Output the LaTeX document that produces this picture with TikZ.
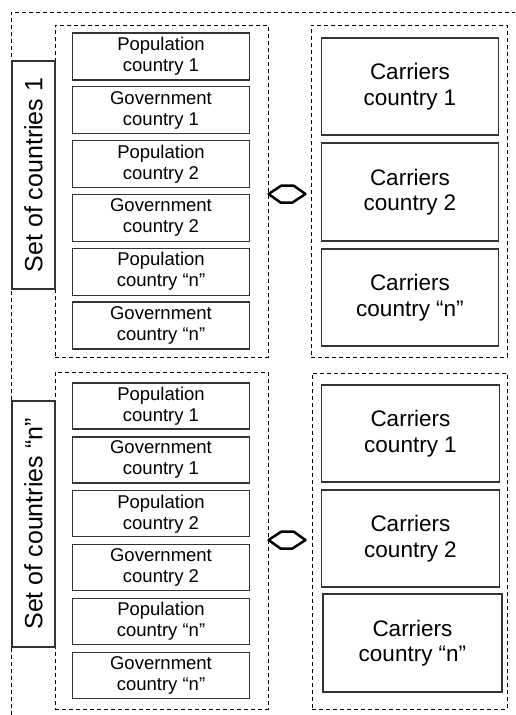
\documentclass[tikz,border=0pt]{standalone}
\usepackage{fontspec}
\setmainfont{Liberation Sans}
\usetikzlibrary{calc}

\tikzset{
  grpbox/.style={draw, dash pattern=on 4pt off 3pt, line width=1pt, inner sep=0pt},
  cntbox/.style={draw=black!80, line width=1.2pt, align=center, inner sep=0pt,
    minimum width=177.5pt, font=\fontsize{18.5}{21}\selectfont},
  carbox/.style={draw=black!80, line width=1.2pt, align=center, inner sep=0pt,
    minimum width=177.5pt, font=\fontsize{22.5}{25.5}\selectfont},
  setbox/.style={draw=black!80, line width=1.2pt, inner sep=0pt, rotate=90,
    minimum height=43pt, font=\fontsize{25}{28}\selectfont},
  lrarrow/.style={draw, line width=2.5pt, line join=round, fill=white},
  outer/.style={dash pattern=on 4pt off 3pt, line width=0.8pt}
}

\begin{document}
\begin{tikzpicture}[x=1pt,y=-1pt]
		%%%%% START %%%%%
		\useasboundingbox (0,0) rectangle (515,715);
		
		\draw[outer] (11,715) -- (11,12) -- (515,12);
		
		% first set
		\node[grpbox, minimum width=213pt, minimum height=332pt] (grpA) at (161.5,191) {};
		\node[grpbox, minimum width=196pt, minimum height=332pt] (carA) at (409,191) {};
		\node[setbox, minimum width=228pt] (setA) at (33.5,175) {Set of countries 1};
		
		\node[cntbox, minimum height=47pt] (popA1) at (161,56.5) {Population\\country 1};
		\node[cntbox, minimum height=47pt] (govA1) at (161,110.3) {Government\\country 1};
		\node[cntbox, minimum height=47pt] (popA2) at (161,164.1) {Population\\country 2};
		\node[cntbox, minimum height=47pt] (govA2) at (161,217.9) {Government\\country 2};
		\node[cntbox, minimum height=47pt] (popAn) at (161,271.7) {Population\\country “n”};
		\node[cntbox, minimum height=47pt] (govAn) at (161,325.5) {Government\\country “n”};
		
		\node[carbox, minimum height=97pt] (carA1) at (410,86.5) {Carriers\\country 1};
		\node[carbox, minimum height=98pt] (carA2) at (410,192) {Carriers\\country 2};
		\node[carbox, minimum height=97pt] (carAn) at (410,297.5) {Carriers\\country “n”};
		
		\draw[lrarrow] ([yshift=-3pt]grpA.east) -- ++(13,-8.5) -- ++(12,0)
			-- ([xshift=-5pt,yshift=-3pt]carA.west) -- ++(-13,8.5) -- ++(-12,0) -- cycle;
		
		% last set
		\node[grpbox, minimum width=213pt, minimum height=337pt] (grpB) at (161.5,540.5) {};
		\node[grpbox, minimum width=195pt, minimum height=336pt] (carB) at (409.5,541) {};
		\node[setbox, minimum width=246pt] (setB) at (33.5,524) {Set of countries “n”};
		
		\node[cntbox, minimum height=46pt] (popB1) at (161,406) {Population\\country 1};
		\node[cntbox, minimum height=46pt] (govB1) at (161,459.9) {Government\\country 1};
		\node[cntbox, minimum height=46pt] (popB2) at (161,513.8) {Population\\country 2};
		\node[cntbox, minimum height=46pt] (govB2) at (161,567.7) {Government\\country 2};
		\node[cntbox, minimum height=46pt] (popBn) at (161,621.6) {Population\\country “n”};
		\node[cntbox, minimum height=46pt] (govBn) at (161,675.5) {Government\\country “n”};
		
		\node[carbox, minimum height=97pt] (carB1) at (410.5,433.5) {Carriers\\country 1};
		\node[carbox, minimum height=97pt] (carB2) at (410.5,538.5) {Carriers\\country 2};
		\node[carbox, minimum height=98pt, minimum width=179pt] (carBn) at (412.5,643) {Carriers\\country “n”};
		
		\draw[lrarrow] ([yshift=0.5pt]grpB.east) -- ++(13,-8.5) -- ++(12,0)
			-- ([xshift=-6pt,yshift=1pt]carB.west) -- ++(-13,8.5) -- ++(-12,0) -- cycle;
		
		%%%%% END %%%%%
	\end{tikzpicture}
\end{document}
